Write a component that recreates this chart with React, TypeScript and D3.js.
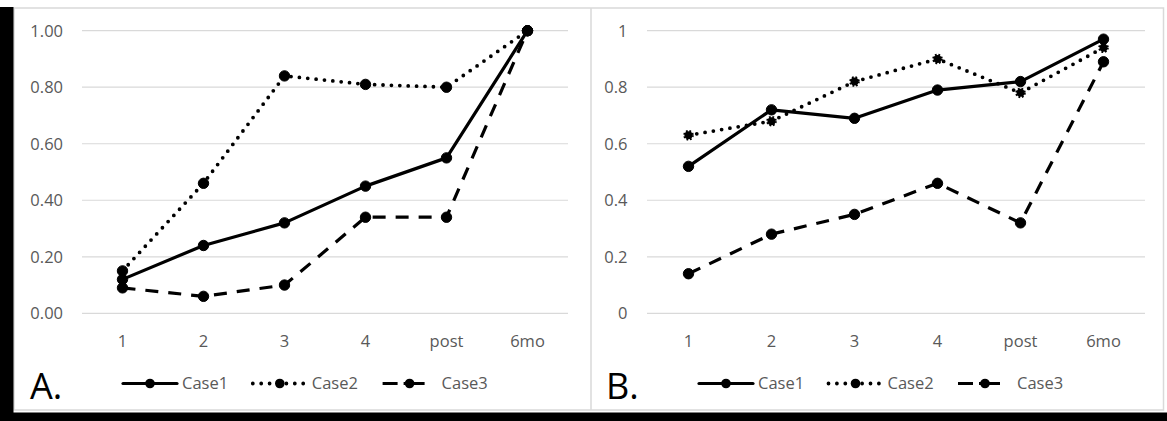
import React from "react";
import * as d3 from "d3";

const categories = ["1", "2", "3", "4", "post", "6mo"];
const seriesNames = ["Case1", "Case2", "Case3"];

const aCase1 = [0.12, 0.24, 0.32, 0.45, 0.55, 1.0];
const aCase2 = [0.15, 0.46, 0.84, 0.81, 0.8, 1.0];
const aCase3 = [0.09, 0.06, 0.1, 0.34, 0.34, 1.0];

const bCase1 = [0.52, 0.72, 0.69, 0.79, 0.82, 0.97];
const bCase2 = [0.63, 0.68, 0.82, 0.9, 0.78, 0.94];
const bCase3 = [0.14, 0.28, 0.35, 0.46, 0.32, 0.89];

const tickValues = [0, 0.2, 0.4, 0.6, 0.8, 1.0];
const aTickLabels = ["0.00", "0.20", "0.40", "0.60", "0.80", "1.00"];
const bTickLabels = ["0", "0.2", "0.4", "0.6", "0.8", "1"];

const FONT = "'Open Sans', 'Noto Sans', sans-serif";

const styles = [
  { dash: undefined, legendDash: undefined, cap: "round" as const, width: 3.2 },
  { dash: "0 8.4", legendDash: "0 8.4", cap: "round" as const, width: 3.8 },
  { dash: "13 10", legendDash: "15 6 21 12", cap: "butt" as const, width: 3.2 },
];

type PanelProps = {
  label: string;
  series: number[][];
  tickLabels: string[];
  gridX0: number;
  gridX1: number;
  labelRight: number;
  legendStart: number;
  legendStep: number;
  letterX: number;
  starMarkers: boolean;
};

function Panel(p: PanelProps) {
  const x = d3.scalePoint<string>().domain(categories).range([p.gridX0, p.gridX1]).padding(0.5);
  const y = d3.scaleLinear().domain([0, 1]).range([313.3, 30.7]);
  const line = d3
    .line<number>()
    .x((_, i) => x(categories[i]) as number)
    .y((d) => y(d));

  const legendY = 383.5;
  return (
    <g>
      {tickValues.map((t, i) => (
        <g key={i}>
          <line x1={p.gridX0} x2={p.gridX1} y1={y(t)} y2={y(t)} stroke="#d9d9d9" strokeWidth={1.2} />
          <text
            x={p.labelRight}
            y={y(t) + 6}
            textAnchor="end"
            fontFamily={FONT}
            fontSize={16.5}
            fill="#595959"
          >
            {p.tickLabels[i]}
          </text>
        </g>
      ))}
      {categories.map((c) => (
        <text
          key={c}
          x={x(c)}
          y={346.5}
          textAnchor="middle"
          fontFamily={FONT}
          fontSize={16.5}
          fill="#595959"
        >
          {c}
        </text>
      ))}
      {[2, 0, 1].map((si) => {
        const st = styles[si];
        const data = p.series[si];
        return (
          <g key={si}>
            <path
              d={line(data) || ""}
              fill="none"
              stroke="#000"
              strokeWidth={st.width}
              strokeDasharray={st.dash}
              strokeLinecap={st.cap}
              strokeLinejoin="round"
            />
            {data.map((v, i) => (
              <circle
                key={i}
                cx={x(categories[i])}
                cy={y(v)}
                r={si === 1 && p.starMarkers ? 4 : 5.2}
                fill="#000"
                stroke="#000"
                strokeWidth={si === 1 && p.starMarkers ? 2.6 : 1}
                strokeDasharray={si === 1 && p.starMarkers ? "1.6 1.6" : undefined}
              />
            ))}
          </g>
        );
      })}
      {seriesNames.map((name, si) => {
        const st = styles[si];
        const x0 = p.legendStart + si * p.legendStep;
        return (
          <g key={name}>
            <line
              x1={x0}
              x2={x0 + 54}
              y1={legendY}
              y2={legendY}
              stroke="#000"
              strokeWidth={st.width}
              strokeDasharray={st.legendDash}
              strokeLinecap={st.cap}
            />
            <circle cx={x0 + 27} cy={legendY} r={4.8} fill="#000" />
            <text x={x0 + 59} y={389} fontFamily={FONT} fontSize={16.5} fill="#595959">
              {name}
            </text>
          </g>
        );
      })}
      <text x={p.letterX} y={398.5} fontFamily={FONT} fontSize={36} fill="#000">
        {p.label}
      </text>
    </g>
  );
}

export default function App() {
  return (
    <svg
      width={1167}
      height={421}
      style={{ position: "absolute", left: 0, top: 0, display: "block", background: "#fff" }}
    >
      <rect x={0} y={0} width={1167} height={421} fill="#fff" />
      <rect x={14} y={8} width={1149.5} height={402} fill="#fff" stroke="#d9d9d9" strokeWidth={1.5} />
      <line x1={591} x2={591} y1={8} y2={410} stroke="#d9d9d9" strokeWidth={1.5} />
      <Panel
        label="A."
        series={[aCase1, aCase2, aCase3]}
        tickLabels={aTickLabels}
        gridX0={82}
        gridX1={568}
        labelRight={63}
        legendStart={123}
        legendStep={129.8}
        letterX={30}
        starMarkers={false}
      />
      <Panel
        label="B."
        series={[bCase1, bCase2, bCase3]}
        tickLabels={bTickLabels}
        gridX0={647}
        gridX1={1145}
        labelRight={627.5}
        legendStart={699}
        legendStep={129.5}
        letterX={606}
        starMarkers={true}
      />
      <rect x={0} y={7} width={13.5} height={414} fill="#000" />
      <rect x={0} y={412.5} width={1167} height={8.5} fill="#000" />
    </svg>
  );
}
